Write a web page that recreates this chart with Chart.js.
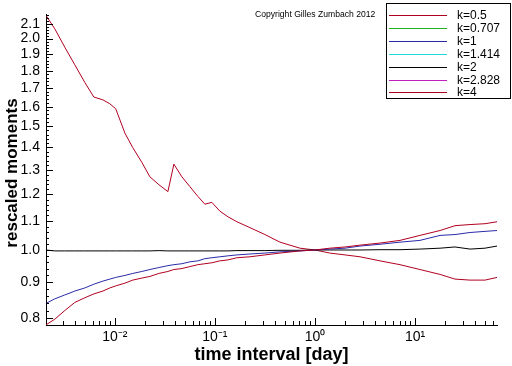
<!DOCTYPE html>
<html>
<head>
<meta charset="utf-8">
<script src="https://cdn.jsdelivr.net/npm/chart.js@4.4.1/dist/chart.umd.min.js"></script>
<style>
  html, body { margin: 0; padding: 0; background: #fff; }
  #wrap { width: 512px; height: 366px; position: relative; }
</style>
</head>
<body>
<div id="wrap"><canvas id="chart"></canvas></div>
<script>
// time interval in days (log spaced)
const tau = [0.00204, 0.00251, 0.00316, 0.00398, 0.00501, 0.00617, 0.00759, 0.00891, 0.0102, 0.0126,
             0.0151, 0.0186, 0.0224, 0.0275, 0.0339, 0.0389, 0.0468, 0.0562, 0.0676, 0.0794,
             0.0933, 0.112, 0.135, 0.166, 0.224, 0.316, 0.447, 0.708, 1, 1.41,
             2.0, 2.82, 4.47, 7.08, 11.2, 17.8, 25.1, 35.5, 50.1, 66.0];

// rescaled moments per k
const k05 = [0.782, 0.797, 0.820, 0.842, 0.855, 0.866, 0.874, 0.883, 0.889, 0.897,
             0.906, 0.912, 0.917, 0.926, 0.932, 0.938, 0.941, 0.947, 0.953, 0.956,
             0.959, 0.965, 0.968, 0.975, 0.978, 0.984, 0.990, 0.997, 1.000, 1.006,
             1.010, 1.016, 1.023, 1.032, 1.049, 1.066, 1.083, 1.087, 1.090, 1.097];
const k1  = [0.839, 0.852, 0.863, 0.874, 0.883, 0.894, 0.903, 0.909, 0.914, 0.920,
             0.926, 0.932, 0.938, 0.944, 0.950, 0.953, 0.956, 0.962, 0.965, 0.972,
             0.975, 0.978, 0.981, 0.984, 0.987, 0.990, 0.994, 0.997, 1.000, 1.003,
             1.006, 1.013, 1.019, 1.026, 1.032, 1.049, 1.052, 1.059, 1.063, 1.066];
const k2  = [1.000, 0.997, 0.997, 0.997, 0.997, 0.997, 0.997, 0.997, 0.997, 0.997,
             0.997, 0.997, 0.997, 0.998, 0.997, 0.997, 0.997, 0.997, 0.997, 0.997,
             0.997, 0.997, 0.997, 0.998, 0.998, 0.998, 0.999, 0.999, 1.000, 1.000,
             1.000, 1.000, 1.001, 1.001, 1.003, 1.006, 1.010, 1.003, 1.006, 1.013];
const k4  = [2.160, 2.065, 1.944, 1.835, 1.732, 1.651, 1.636, 1.615, 1.589, 1.467,
             1.399, 1.333, 1.271, 1.239, 1.211, 1.325, 1.271, 1.231, 1.192, 1.162,
             1.169, 1.136, 1.115, 1.097, 1.076, 1.052, 1.026, 1.006, 1.000, 0.990,
             0.984, 0.978, 0.965, 0.953, 0.938, 0.923, 0.909, 0.906, 0.906, 0.914];

const seriesLabels = ['k=0.5', 'k=0.707', 'k=1', 'k=1.414', 'k=2', 'k=2.828', 'k=4'];
const seriesColors = ['#b00020', '#20b020', '#2a2aa8', '#20d8d8', '#000000', '#c020c0', '#b00020'];
const seriesValues = [k05, [], k1, [], k2, [], k4];

const xTicks = [0.01, 0.1, 1, 10];
const yTicks = [0.8, 0.9, 1.0, 1.1, 1.2, 1.3, 1.4, 1.5, 1.6, 1.7, 1.8, 1.9, 2.0, 2.1];

const sup = { '-': '\u207B', '0': '\u2070', '1': '\u00B9', '2': '\u00B2', '3': '\u00B3' };
function powLabel(v) {
  const e = String(Math.round(Math.log10(v)));
  return '10' + e.split('').map(c => sup[c]).join('');
}

const FONT = "'Liberation Sans', Arial, sans-serif";

// inward tick marks, y title, copyright note and the framed legend
const decorations = {
  id: 'decorations',
  afterDraw(chart) {
    const ctx = chart.ctx;
    const xs = chart.scales.x, ys = chart.scales.y;
    const area = chart.chartArea;
    ctx.save();
    ctx.strokeStyle = '#000';
    ctx.lineWidth = 1;
    ctx.beginPath();
    // y ticks every 0.02, major every 0.1
    for (let i = 39; i <= 108; i++) {
      const v = i / 50;
      if (v < ys.min || v > ys.max) continue;
      const py = Math.round(ys.getPixelForValue(v)) + 0.5;
      const len = (i % 5 === 0) ? 7 : 3;
      ctx.moveTo(area.left, py);
      ctx.lineTo(area.left + len, py);
    }
    // x ticks: decades and 2..9
    for (let e = -3; e <= 1; e++) {
      for (let m = 1; m <= 9; m++) {
        const v = m * Math.pow(10, e);
        if (v < xs.min || v > xs.max) continue;
        const px = Math.round(xs.getPixelForValue(v)) + 0.5;
        const len = (m === 1) ? 7 : 4;
        ctx.moveTo(px, area.bottom);
        ctx.lineTo(px, area.bottom - len);
      }
    }
    ctx.stroke();

    // y axis title
    ctx.fillStyle = '#000';
    ctx.save();
    ctx.translate(12, 173);
    ctx.rotate(-Math.PI / 2);
    ctx.font = 'bold 17px ' + FONT;
    ctx.textAlign = 'center';
    ctx.textBaseline = 'middle';
    ctx.fillText('rescaled moments', 0, 0);
    ctx.restore();

    ctx.font = '8.6px ' + FONT;
    ctx.textBaseline = 'middle';
    ctx.textAlign = 'left';
    ctx.fillText('Copyright Gilles Zumbach 2012', 255, 15);

    // legend box
    const bx = 386.5, by = 3.5, bw = 124, bh = 95;
    ctx.fillStyle = '#fff';
    ctx.fillRect(bx, by, bw, bh);
    ctx.strokeStyle = '#000';
    ctx.strokeRect(bx, by, bw, bh);
    ctx.font = '12px ' + FONT;
    chart.data.datasets.forEach((ds, i) => {
      const y = Math.round(15 + i * 12.9);
      ctx.fillStyle = seriesColors[i];
      ctx.fillRect(389, y, 58, 1);
      ctx.fillStyle = '#000';
      ctx.fillText(ds.label, 457, y + 0.5);
    });
    ctx.restore();
  }
};

new Chart(document.getElementById('chart'), {
  type: 'scatter',
  data: {
    datasets: seriesLabels.map((label, i) => ({
      label: label,
      data: seriesValues[i].map((v, j) => ({ x: tau[j], y: v })),
      borderColor: seriesColors[i],
      backgroundColor: seriesColors[i],
      borderWidth: 1,
      pointRadius: 0,
      showLine: true,
      tension: 0
    }))
  },
  options: {
    responsive: true,
    maintainAspectRatio: false,
    devicePixelRatio: 1,
    animation: false,
    layout: { padding: { left: 0, right: 15, top: 6, bottom: 0 } },
    plugins: {
      legend: { display: false },
      tooltip: { enabled: false }
    },
    scales: {
      x: {
        type: 'logarithmic',
        min: 0.00205,
        max: 66,
        afterBuildTicks: s => { s.ticks = xTicks.map(v => ({ value: v })); },
        afterFit: s => { s.height = 41; },
        grid: { display: false, drawTicks: false },
        border: { display: true, color: '#000', width: 1 },
        ticks: {
          autoSkip: false, maxRotation: 0, padding: 4,
          color: '#000', font: { family: FONT, size: 14 },
          callback: v => powLabel(v)
        },
        title: {
          display: true, text: 'time interval [day]', color: '#000',
          font: { family: FONT, size: 18, weight: 'bold' }, padding: { top: 0, bottom: 0 }
        }
      },
      y: {
        type: 'logarithmic',
        min: 0.782,
        max: 2.165,
        afterBuildTicks: s => { s.ticks = yTicks.map(v => ({ value: v })); },
        afterFit: s => { s.width = 46; },
        grid: { display: false, drawTicks: false },
        border: { display: true, color: '#000', width: 1 },
        ticks: {
          autoSkip: false, padding: 6,
          color: '#000', font: { family: FONT, size: 14 },
          callback: v => Number(v).toFixed(1)
        },
        title: { display: false }
      }
    }
  },
  plugins: [decorations]
});
</script>
</body>
</html>
